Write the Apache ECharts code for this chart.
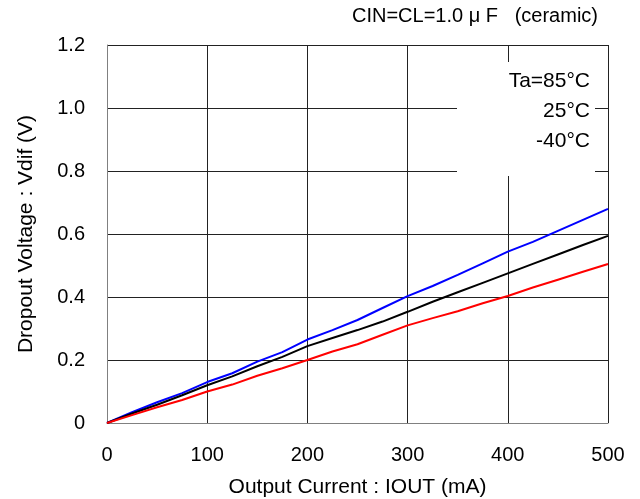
<!DOCTYPE html>
<html>
<head>
<meta charset="utf-8">
<script src="https://cdn.jsdelivr.net/npm/echarts@6/dist/echarts.min.js"></script>
<style>
html,body{margin:0;padding:0;background:#fff;}
#c{width:640px;height:499px;}
</style>
</head>
<body>
<div id="c"></div>
<script>
const current = [0, 25, 50, 75, 100, 125, 150, 175, 200, 225, 250, 275, 300, 325, 350, 375, 400, 425, 450, 475, 500];
const vdif85 = [0, 0.034, 0.066, 0.095, 0.130, 0.158, 0.195, 0.225, 0.265, 0.295, 0.327, 0.365, 0.403, 0.435, 0.470, 0.507, 0.544, 0.575, 0.610, 0.645, 0.680];
const vdif25 = [0, 0.030, 0.058, 0.088, 0.120, 0.148, 0.180, 0.210, 0.244, 0.270, 0.295, 0.322, 0.353, 0.385, 0.415, 0.445, 0.475, 0.505, 0.535, 0.565, 0.594];
const vdifM40 = [0, 0.025, 0.050, 0.073, 0.100, 0.122, 0.150, 0.174, 0.200, 0.227, 0.250, 0.280, 0.310, 0.333, 0.355, 0.380, 0.403, 0.430, 0.455, 0.480, 0.505];
const xTicks = [0, 100, 200, 300, 400, 500];
const yTicks = [0, 0.2, 0.4, 0.6, 0.8, 1.0, 1.2];
const legendLabels = ['Ta=85\u00B0C', '25\u00B0C', '-40\u00B0C'];

const pair = (ys) => current.map((x, i) => [x, ys[i]]);
const font = 'Liberation Sans, Arial, sans-serif';
const chart = echarts.init(document.getElementById('c'));
chart.setOption({
  animation: false,
  backgroundColor: '#fff',
  grid: {left: 107, right: 32, top: 45, bottom: 76, containLabel: false, outerBoundsMode: 'none'},
  xAxis: {
    type: 'value', min: xTicks[0], max: xTicks[xTicks.length - 1], interval: 100,
    name: 'Output Current : IOUT (mA)', nameLocation: 'middle', nameGap: 54,
    nameTextStyle: {fontFamily: font, fontSize: 21, color: '#000'},
    axisLine: {show: true, lineStyle: {color: '#808080', width: 1}},
    axisTick: {show: false},
    axisLabel: {fontFamily: font, fontSize: 20, color: '#000', margin: 22},
    splitLine: {show: true, lineStyle: {color: '#222', width: 1}}
  },
  yAxis: {
    type: 'value', min: yTicks[0], max: yTicks[yTicks.length - 1], interval: 0.2,
    name: 'Dropout Voltage : Vdif (V)', nameLocation: 'middle', nameGap: 70, nameRotate: 90,
    nameTextStyle: {fontFamily: font, fontSize: 21, color: '#000'},
    axisLine: {show: true, lineStyle: {color: '#808080', width: 1}},
    axisTick: {show: false},
    axisLabel: {fontFamily: font, fontSize: 20, color: '#000', margin: 22,
      formatter: v => (Math.abs(v) < 1e-9 ? '0' : v.toFixed(1))},
    splitLine: {show: true, lineStyle: {color: '#222', width: 1}}
  },
  series: [
    {name: legendLabels[0], type: 'line', data: pair(vdif85), showSymbol: false, lineStyle: {color: '#0000ff', width: 2}, itemStyle: {color: '#0000ff'}, z: 3},
    {name: legendLabels[1], type: 'line', data: pair(vdif25), showSymbol: false, lineStyle: {color: '#000000', width: 2}, itemStyle: {color: '#000'}, z: 3},
    {name: legendLabels[2], type: 'line', data: pair(vdifM40), showSymbol: false, lineStyle: {color: '#ff0000', width: 2}, itemStyle: {color: '#ff0000'}, z: 3}
  ],
  graphic: [
    {type: 'text', z: 10, x: 598, y: 16,
      style: {text: 'CIN=CL=1.0 \u03BC F   (ceramic)', font: '20px ' + font, fill: '#000', align: 'right', verticalAlign: 'middle'}},
    {type: 'rect', left: 457, top: 62, z: 10, shape: {width: 138, height: 114}, style: {fill: '#fff', stroke: null}},
    {type: 'text', z: 11, x: 590, y: 81, style: {text: legendLabels[0], font: '21px ' + font, fill: '#000', align: 'right', verticalAlign: 'middle'}},
    {type: 'text', z: 11, x: 590, y: 111, style: {text: legendLabels[1], font: '21px ' + font, fill: '#000', align: 'right', verticalAlign: 'middle'}},
    {type: 'text', z: 11, x: 590, y: 141, style: {text: legendLabels[2], font: '21px ' + font, fill: '#000', align: 'right', verticalAlign: 'middle'}}
  ]
});
</script>
</body>
</html>
